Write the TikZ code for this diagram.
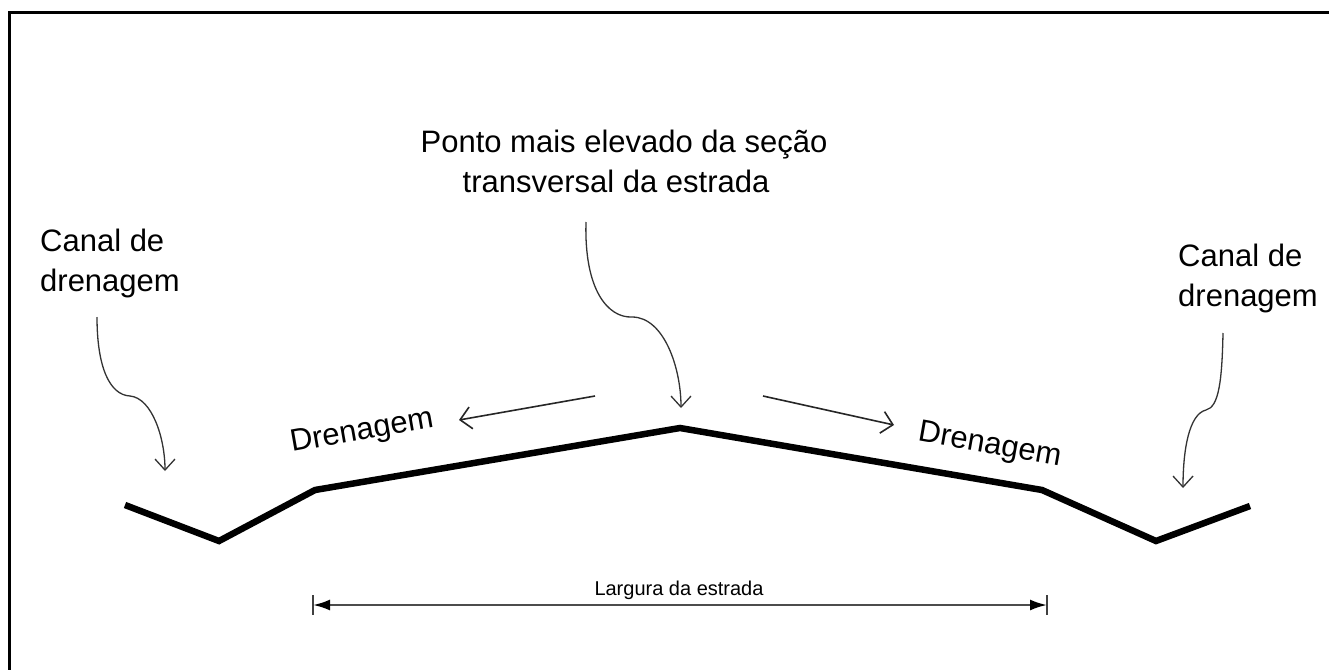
\documentclass[tikz,border=0pt]{standalone}
\usepackage{fontspec}
\setmainfont{Liberation Sans}
\usetikzlibrary{arrows.meta}
\tikzset{
  road/.style={line width=6.5pt, line join=miter, black},
  pointer/.style={line width=1.3pt, black!80, -{Straight Barb[length=11pt,width=20pt,line width=1.3pt]}},
  flowarrow/.style={line width=1.6pt, black!85, -{Straight Barb[length=11pt,width=22pt,line width=1.6pt]}},
  dimline/.style={line width=2.2pt, black!70, {Latex[length=17pt,width=11pt,black]}-{Latex[length=17pt,width=11pt,black]}},
  tick/.style={line width=1.8pt, black!75},
  bigtxt/.style={font=\fontsize{31}{38}\selectfont, inner sep=0pt},
  smalltxt/.style={font=\fontsize{20}{24}\selectfont, inner sep=0pt},
}
\begin{document}
\begin{tikzpicture}[x=1pt,y=-1pt]
\useasboundingbox (0,0) rectangle (1329,669);
\clip (0,0) rectangle (1329,669);
\fill[white] (0,0) rectangle (1329,669);
\draw[line width=3pt] (9,13) rectangle (1350,690);

% road profile
\coordinate (p1) at (125,505);
\coordinate (p2) at (219,541);
\coordinate (p3) at (315,490);
\coordinate (p4) at (680,428);
\coordinate (p5) at (1042,490);
\coordinate (p6) at (1156,541);
\coordinate (p7) at (1250,506);
\draw[road] (p1) -- (p2) -- (p3) -- (p4) -- (p5) -- (p6) -- (p7);

% top label
\node[bigtxt, anchor=base] (top1) at (624,152) {Ponto mais elevado da seção};
\node[bigtxt, anchor=base] (top2) at (616,192) {transversal da estrada};

% side labels
\node[bigtxt, anchor=base west] (cl1) at (40,251) {Canal de};
\node[bigtxt, anchor=base west] (cl2) at (40,291) {drenagem};
\node[bigtxt, anchor=base west] (cr1) at (1178,266) {Canal de};
\node[bigtxt, anchor=base west] (cr2) at (1178,306) {drenagem};

% drenagem labels
\node[bigtxt, rotate=10] (dl) at (362,432) {Drenagem};
\node[bigtxt, rotate=-10] (dr) at (990,446) {Drenagem};

% curved pointers
\coordinate (cs) at (586,222);
\coordinate (ce) at (681,408);
\draw[pointer] (cs) .. controls (584,290) and (608,318) .. (632,317)
  .. controls (664,317) and (681,368) .. (ce);
\coordinate (ls) at (97,317);
\coordinate (le) at (165,471);
\draw[pointer] (ls) .. controls (97,368) and (110,395) .. (130,396)
  .. controls (152,398) and (165,438) .. (le);
\coordinate (rs) at (1223,333);
\coordinate (re) at (1183,488);
\draw[pointer] (rs) .. controls (1222,380) and (1219,407) .. (1206,410)
  .. controls (1189,414) and (1183,450) .. (re);

% drainage direction arrows
\coordinate (al1) at (595,396);
\coordinate (al2) at (459,420);
\draw[flowarrow] (al1) -- (al2);
\coordinate (ar1) at (763,396);
\coordinate (ar2) at (894,425);
\draw[flowarrow] (ar1) -- (ar2);

% dimension
\coordinate (d1) at (313,605);
\coordinate (d2) at (1047,605);
\draw[tick] (313,595) -- (313,615);
\draw[tick] (1047,595) -- (1047,615);
\draw[dimline] (d1) -- (d2);
\node[smalltxt, anchor=base] (dim) at (679,595) {Largura da estrada};
\end{tikzpicture}
\end{document}
